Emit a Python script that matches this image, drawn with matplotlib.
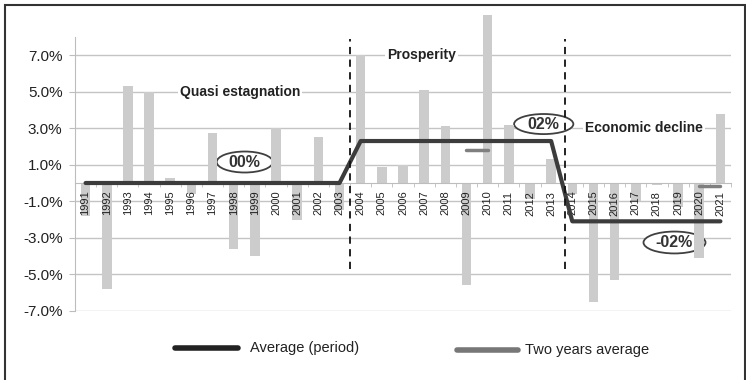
import numpy as np
import matplotlib.pyplot as plt
from matplotlib.patches import Ellipse, Rectangle
from matplotlib.lines import Line2D

plt.rcParams['font.family'] = ['Liberation Sans', 'DejaVu Sans']

# annual growth, %
years = list(range(1991, 2022))
growth = [-1.8, -5.8, 5.3, 5.0, 0.3, -0.6, 2.75, -3.6, -4.0, 3.0, -2.0, 2.5, -1.5,
          7.0, 0.9, 1.0, 5.1, 3.1, -5.6, 9.2, 3.2, -0.9, 1.3,
          -0.6, -6.5, -5.3, -1.0, -0.1, -1.3, -4.1, 3.8]

# periods and their mean growth
period_names = ["Quasi estagnation", "Prosperity", "Economic decline"]
period_start = [1991, 2004, 2014]
period_end = [2003, 2013, 2021]
period_mean = [0.0, 2.3, -2.1]
period_tags = ["00%", "02%", "-02%"]

# two years averages
pair_years = [(2009, 2010), (2020, 2021)]
pair_mean = [1.8, -0.15]

x = np.arange(len(years))
pos = {y: i for i, y in enumerate(years)}

fig = plt.figure(figsize=(7.46, 3.80), dpi=100)
ax = fig.add_axes([75 / 746, 1 - 310.75 / 380, 656 / 746, 273.75 / 380])

grid_col = '#c4c4c4'
yt = np.arange(-7, 8, 2)
for v in yt:
    ax.axhline(v, color=grid_col, lw=1, zorder=0.5)

ax.bar(x, growth, width=0.45, color='#cccccc', zorder=1, clip_on=False)

# period average line
ax_x, ax_y = [], []
for s, e, m in zip(period_start, period_end, period_mean):
    ax_x += [pos[s], pos[e]]
    ax_y += [m, m]
ax.plot(ax_x, ax_y, color='#3c3c3c', lw=3, solid_capstyle='round', zorder=3)

for (a, b), m in zip(pair_years, pair_mean):
    ax.plot([pos[a], pos[b]], [m, m], color='#7f7f7f', lw=2.5,
            solid_capstyle='round', zorder=3)

# period dividers
for dx in [12.5, 22.65]:
    ax.plot([dx, dx], [-4.7, 7.9], color='#111111', lw=1.3, ls=(0, (4, 3)),
            zorder=4, clip_on=False)

# period names
name_pos = [(7.29, 5.0), (15.88, 7.0), (26.4, 3.0)]
for name, (tx, ty) in zip(period_names, name_pos):
    ax.text(tx, ty, name, ha='center', va='center', fontsize=10,
            fontweight='bold', color='#222222', zorder=5,
            bbox=dict(facecolor='white', edgecolor='none', pad=1.5))

# circled mean tags
tag_pos = [(7.52, 1.15, 2.65, 1.15), (21.65, 3.23, 2.8, 1.1), (27.83, -3.26, 2.93, 1.2)]
for tag, (cx, cy, w, h) in zip(period_tags, tag_pos):
    ax.add_patch(Ellipse((cx, cy), w, h, facecolor='white', edgecolor='#404040',
                         lw=1.3, zorder=0.8))
    ax.text(cx, cy, tag, ha='center', va='center', fontsize=11.5,
            fontweight='bold', color='#333333', zorder=5)

ax.set_xlim(-0.5, len(years) - 0.5)
ax.set_ylim(-7, 8)
ax.set_yticks(yt, labels=[f"{v:.1f}%" for v in yt])
ax.set_xticks(x, labels=[str(y) for y in years], fontweight='bold')
ax.set_xticks(np.arange(-0.5, len(years)), minor=True)
ax.tick_params(axis='x', which='major', length=0, pad=5.5, labelsize=8,
               labelcolor='#222222', labelrotation=90)
ax.tick_params(axis='x', which='minor', length=3, direction='out', color='#bdbdbd')
ax.tick_params(axis='y', length=4, color='#bdbdbd', pad=5, labelsize=11,
               labelcolor='#222222')

for s in ['top', 'right']:
    ax.spines[s].set_visible(False)
ax.spines['bottom'].set_position(('data', 0))
ax.spines['bottom'].set_color('#bdbdbd')
ax.spines['left'].set_color('#bdbdbd')

# legend below the plot
ly = 1 - 348 / 380
fig.add_artist(Line2D([175 / 746, 238 / 746], [ly, ly], lw=4, color='#222222',
                      solid_capstyle='round'))
fig.text(250 / 746, ly, "Average (period)", va='center', fontsize=10.5, color='#222222')
ly2 = 1 - 350 / 380
fig.add_artist(Line2D([457 / 746, 518 / 746], [ly2, ly2], lw=4, color='#777777',
                      solid_capstyle='round'))
fig.text(525 / 746, ly2, "Two years average", va='center', fontsize=10.5, color='#222222')

fig.add_artist(Rectangle((5 / 746, -0.02), 740 / 746, 1.02 - 5 / 380, fill=False,
                         transform=fig.transFigure, edgecolor='#333333', lw=1.5))

fig.savefig('out.png', dpi=100)
